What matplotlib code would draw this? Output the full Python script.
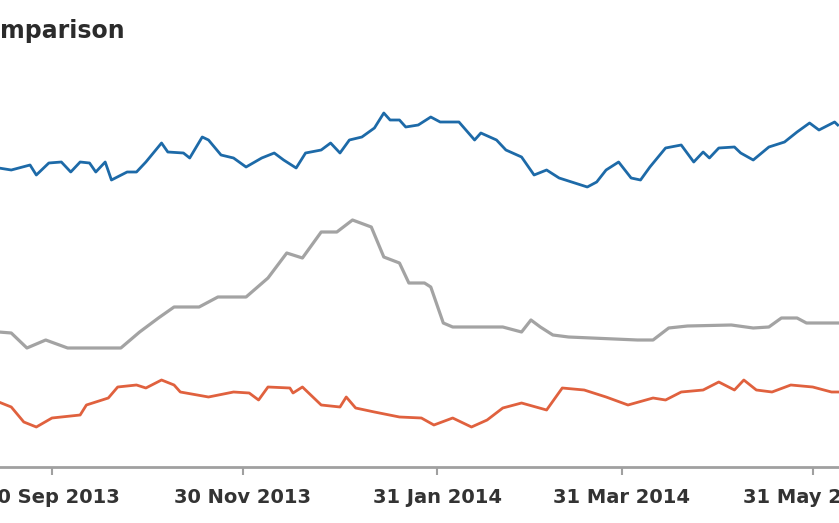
import matplotlib
matplotlib.use('Agg')
import matplotlib.pyplot as plt
import matplotlib.dates as mdates
import pandas as pd

# values (arbitrary index units, no y scale shown)
blue_dates = ['2013-09-13', '2013-09-17', '2013-09-23', '2013-09-25', '2013-09-29', '2013-10-03',
              '2013-10-06', '2013-10-09', '2013-10-12', '2013-10-14', '2013-10-17', '2013-10-19',
              '2013-10-24', '2013-10-27', '2013-10-30', '2013-11-04', '2013-11-06', '2013-11-11',
              '2013-11-13', '2013-11-17', '2013-11-19', '2013-11-23', '2013-11-27', '2013-12-01',
              '2013-12-06', '2013-12-10', '2013-12-13', '2013-12-17', '2013-12-20', '2013-12-25',
              '2013-12-28', '2013-12-31', '2014-01-03', '2014-01-07', '2014-01-11', '2014-01-14',
              '2014-01-16', '2014-01-19', '2014-01-21', '2014-01-25', '2014-01-29', '2014-02-01',
              '2014-02-07', '2014-02-12', '2014-02-14', '2014-02-19', '2014-02-22', '2014-02-27',
              '2014-03-03', '2014-03-07', '2014-03-11', '2014-03-15', '2014-03-20', '2014-03-23',
              '2014-03-26', '2014-03-30', '2014-04-03', '2014-04-06', '2014-04-09', '2014-04-14',
              '2014-04-19', '2014-04-23', '2014-04-26', '2014-04-28', '2014-05-01', '2014-05-06',
              '2014-05-08', '2014-05-12', '2014-05-17', '2014-05-22', '2014-05-26', '2014-05-30',
              '2014-06-02', '2014-06-07', '2014-06-08']
blue_vals = [299, 297, 302, 292, 304, 305, 295, 305, 304, 295, 305, 287,
             295, 295, 305, 324, 315, 314, 309, 330, 327, 312, 309, 300,
             309, 314, 307, 299, 314, 317, 324, 314, 327, 330, 339, 354,
             347, 347, 340, 342, 350, 345, 345, 327, 334, 327, 317, 310,
             292, 297, 289, 285, 280, 285, 297, 305, 289, 287, 300, 319,
             322, 305, 315, 309, 319, 320, 314, 307, 320, 325, 335, 344,
             337, 345, 342]

gray_dates = ['2013-09-13', '2013-09-17', '2013-09-22', '2013-09-28', '2013-10-05', '2013-10-22',
              '2013-10-28', '2013-11-03', '2013-11-08', '2013-11-16', '2013-11-22', '2013-12-01',
              '2013-12-08', '2013-12-14', '2013-12-19', '2013-12-25', '2013-12-30', '2014-01-04',
              '2014-01-10', '2014-01-14', '2014-01-19', '2014-01-22', '2014-01-27', '2014-01-29',
              '2014-02-02', '2014-02-05', '2014-02-21', '2014-02-27', '2014-03-02', '2014-03-05',
              '2014-03-09', '2014-03-14', '2014-04-05', '2014-04-10', '2014-04-15', '2014-04-21',
              '2014-05-05', '2014-05-12', '2014-05-17', '2014-05-21', '2014-05-26', '2014-05-29',
              '2014-06-08']
gray_vals = [135, 134, 119, 127, 119, 119, 135, 149, 160, 160, 170, 170,
             189, 214, 209, 235, 235, 247, 240, 210, 204, 184, 184, 180,
             144, 140, 140, 135, 147, 140, 132, 130, 127, 127, 139, 141,
             142, 139, 140, 149, 149, 144, 144]

orange_dates = ['2013-09-13', '2013-09-17', '2013-09-21', '2013-09-25', '2013-09-30', '2013-10-09',
                '2013-10-11', '2013-10-18', '2013-10-21', '2013-10-27', '2013-10-30', '2013-11-04',
                '2013-11-08', '2013-11-10', '2013-11-19', '2013-11-27', '2013-12-02', '2013-12-05',
                '2013-12-08', '2013-12-15', '2013-12-16', '2013-12-19', '2013-12-25', '2013-12-31',
                '2014-01-02', '2014-01-05', '2014-01-11', '2014-01-19', '2014-01-26', '2014-01-30',
                '2014-02-05', '2014-02-11', '2014-02-16', '2014-02-21', '2014-02-27', '2014-03-07',
                '2014-03-12', '2014-03-19', '2014-03-26', '2014-04-02', '2014-04-10', '2014-04-14',
                '2014-04-19', '2014-04-26', '2014-05-01', '2014-05-06', '2014-05-09', '2014-05-13',
                '2014-05-18', '2014-05-24', '2014-05-31', '2014-06-06', '2014-06-08']
orange_vals = [65, 60, 45, 40, 49, 52, 62, 69, 80, 82, 79, 87,
               82, 75, 70, 75, 74, 67, 80, 79, 74, 80, 62, 60,
               70, 59, 55, 50, 49, 42, 49, 40, 47, 59, 64, 57,
               79, 77, 70, 62, 69, 67, 75, 77, 85, 77, 87, 77,
               75, 82, 80, 75, 75]

tick_dates = ['2013-09-30', '2013-11-30', '2014-01-31', '2014-03-31', '2014-05-31']

fig = plt.figure(figsize=(8.39, 5.23), dpi=100)
ax = fig.add_axes([0, 56 / 523, 1, 467 / 523])

ax.plot(pd.to_datetime(blue_dates), blue_vals, color='#1d6aa8', lw=2.0)
ax.plot(pd.to_datetime(gray_dates), gray_vals, color='#a3a3a3', lw=2.3)
ax.plot(pd.to_datetime(orange_dates), orange_vals, color='#e0613e', lw=2.0)

base = mdates.date2num(pd.Timestamp('2013-09-30'))
ax.set_xlim(base - 16.6, base + 251.4)
ax.set_ylim(0, 467)

ax.set_xticks(pd.to_datetime(tick_dates))
ax.xaxis.set_major_formatter(mdates.DateFormatter('%d %b %Y'))
ax.set_yticks([])
for s in ['left', 'right', 'top']:
    ax.spines[s].set_visible(False)
ax.spines['bottom'].set_color('#a0a0a0')
ax.spines['bottom'].set_linewidth(2)
ax.tick_params(axis='x', direction='out', length=6, width=1.5, color='#a0a0a0',
               pad=9, labelsize=14, labelcolor='#333333')
for lab in ax.get_xticklabels():
    lab.set_fontweight('bold')

fig.text(0, 1 - 31 / 523, 'mparison', fontsize=17, fontweight='bold', color='#2b2b2b',
         va='center', ha='left')

fig.savefig('out.png', dpi=100)
